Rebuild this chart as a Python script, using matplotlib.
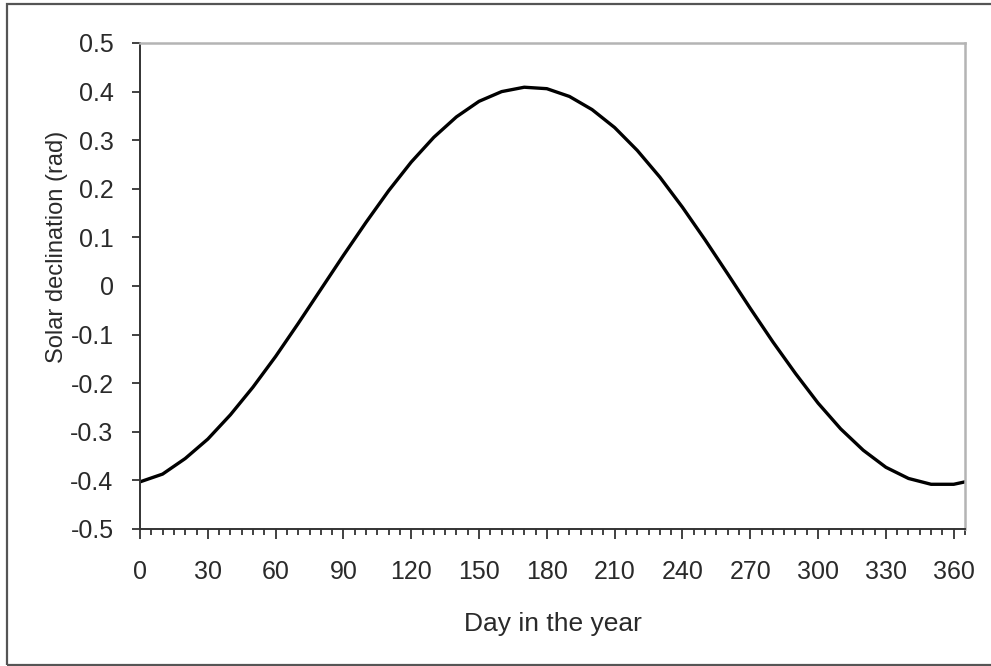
import matplotlib
matplotlib.use("Agg")
import matplotlib.pyplot as plt
from matplotlib.ticker import MultipleLocator, FuncFormatter
from matplotlib.patches import Rectangle

# values (day of year, declination in rad)
days = [0, 10, 20, 30, 40, 50, 60, 70, 80, 90, 100, 110, 120, 130, 140, 150,
        160, 170, 180, 190, 200, 210, 220, 230, 240, 250, 260, 270, 280, 290,
        300, 310, 320, 330, 340, 350, 360, 365]
declination = [-0.403, -0.387, -0.355, -0.315, -0.265, -0.208, -0.145, -0.077,
               -0.007, 0.063, 0.131, 0.196, 0.255, 0.306, 0.348, 0.380,
               0.400, 0.409, 0.406, 0.390, 0.363, 0.326, 0.279, 0.224,
               0.162, 0.095, 0.025, -0.046, -0.115, -0.180, -0.241, -0.294,
               -0.338, -0.373, -0.396, -0.408, -0.408, -0.403]

plt.rcParams['font.family'] = ['Liberation Sans', 'DejaVu Sans']
plt.rcParams['axes.unicode_minus'] = False

fig = plt.figure(figsize=(9.91, 6.66), dpi=100)
ax = fig.add_axes([140 / 991, 1 - 529 / 666, 825 / 991, 486 / 666])

ax.plot(days, declination, color='black', linewidth=2.4)

ax.set_xlim(0, 365)
ax.set_ylim(-0.5, 0.5)
ax.xaxis.set_major_locator(MultipleLocator(30))
ax.xaxis.set_minor_locator(MultipleLocator(5))
ax.yaxis.set_major_locator(MultipleLocator(0.1))
ax.yaxis.set_major_formatter(FuncFormatter(lambda v, p: '%g' % round(v, 1)))

text_color = '#2a2a2a'
ax.tick_params(axis='x', which='major', length=7.5, width=1.3, color='#333333',
               labelsize=18, labelcolor=text_color, pad=15)
ax.tick_params(axis='x', which='minor', length=4.5, width=1.3, color='#333333')
ax.tick_params(axis='y', which='major', length=6, width=1.3, color='#333333',
               labelsize=18, labelcolor=text_color, pad=13)

for side in ['left', 'bottom']:
    ax.spines[side].set_color('#333333')
    ax.spines[side].set_linewidth(1.4)
for side in ['top', 'right']:
    ax.spines[side].set_color('#b4b4b4')
    ax.spines[side].set_linewidth(1.8)

ax.set_xlabel('Day in the year', fontsize=19, color=text_color)
ax.set_ylabel('Solar declination (rad)', fontsize=17, color=text_color)
ax.xaxis.set_label_coords(0.5, -0.171)
ax.yaxis.set_label_coords(-0.087, 0.58)

# outer frame around the chart
fig.patches.append(Rectangle((7 / 991, 1 / 666), 1.2, 661 / 666,
                             transform=fig.transFigure, fill=False,
                             edgecolor='#555555', linewidth=1.6))

fig.savefig('out.png', dpi=100)
